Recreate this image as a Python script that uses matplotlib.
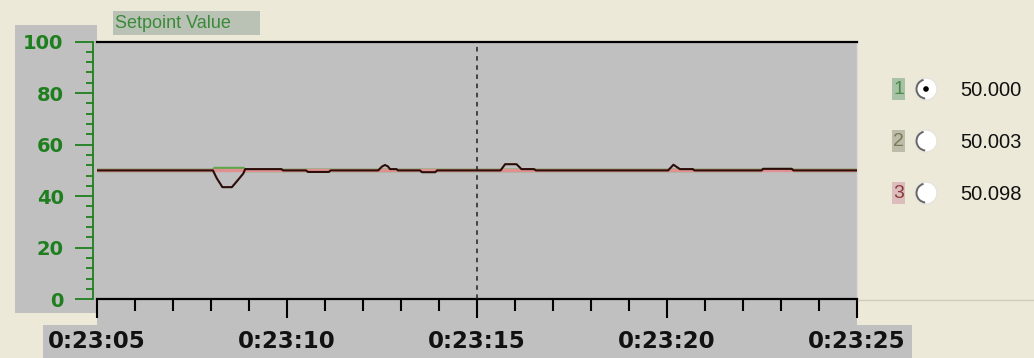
import matplotlib
matplotlib.use("Agg")
import matplotlib.pyplot as plt
from matplotlib.patches import Rectangle, Circle, Arc
from matplotlib.ticker import FixedLocator, MultipleLocator, FixedFormatter

# ---- data (time in seconds after 0:23:05) ----
tick_seconds = [0, 5, 10, 15, 20]
tick_labels = ["0:23:05", "0:23:10", "0:23:15", "0:23:20", "0:23:25"]
cursor_time = 10

# series 3: reference value (flat)
t_red = [0, 20]
v_red = [50, 50]

# series 1: setpoint trace
t_green = [0, 3.05, 3.1, 3.85, 3.9, 17.49, 17.53, 18.28, 18.33, 20]
v_green = [50, 50, 50.7, 50.7, 50, 50, 50.3, 50.3, 50, 50]

# series 2: process value
t_dark = [0, 3.05, 3.15, 3.3, 3.55, 3.75, 3.85, 3.9, 4.85, 4.9,
          5.5, 5.55, 6.1, 6.15, 7.40, 7.50, 7.58, 7.66, 7.71, 7.88, 7.92,
          8.5, 8.55, 8.9, 8.95, 10.62, 10.74, 11.04, 11.17, 11.50, 11.55,
          15.03, 15.17, 15.34, 15.68, 15.72, 17.49, 17.53, 18.28, 18.33, 20]
v_dark = [50, 50, 47, 43.5, 43.5, 47, 48.8, 50.5, 50.5, 50,
          50, 49.4, 49.4, 50, 50, 51.5, 52.1, 51.5, 50.5, 50.5, 50,
          50, 49.3, 49.3, 50, 50, 52.4, 52.4, 50.5, 50.5, 50,
          50, 52.2, 50.5, 50.5, 50, 50, 50.6, 50.6, 50, 50]

legend_ids = ["1", "2", "3"]
legend_values = ["50.000", "50.003", "50.098"]
legend_box_colors = ["#a9c2a6", "#bcbca8", "#dcbcbc"]
legend_text_colors = ["#4b8a4b", "#7a7a58", "#8a3a3a"]

W, H = 1034, 358
CREAM = "#ECE9D8"
GRAY = "#C0C0C0"
GREEN = "#1f7f1f"

fig = plt.figure(figsize=(W / 100, H / 100), dpi=100, facecolor=CREAM)

# full-figure pixel canvas for panel decorations
bg = fig.add_axes([0, 0, 1, 1], zorder=0)
bg.set_xlim(0, W)
bg.set_ylim(H, 0)
bg.axis("off")

def box(x0, y0, x1, y1, color, z=0):
    bg.add_patch(Rectangle((x0, y0), x1 - x0, y1 - y0, facecolor=color,
                           edgecolor="none", zorder=z))

box(15, 25, 97, 313, GRAY)            # y-label panel
box(97, 299, 857, 325, GRAY)          # below plot
box(43, 325, 912, 358, GRAY)          # time label strip
box(113, 11, 260, 35, "#b9c2b4")      # title box
bg.plot([857, W], [299.5, 299.5], color="#cfccbf", lw=1)
bg.text(115, 23, "Setpoint Value", color="#3a8a3a", fontsize=13,
        family="Liberation Sans", va="center", ha="left")

# legend with radio buttons
rows_y = [89, 141, 193]
for i, y in enumerate(rows_y):
    box(892, y - 11, 905, y + 11, legend_box_colors[i])
    bg.text(898.5, y + 1, legend_ids[i], color=legend_text_colors[i],
            fontsize=14, family="Liberation Sans", ha="center", va="center")
    bg.add_patch(Circle((926, y), 11, facecolor="white", edgecolor="#e6e4dc",
                        lw=1, zorder=2))
    bg.add_patch(Arc((926, y), 19, 19, theta1=95, theta2=255,
                     color="#666666", lw=1.4, zorder=3))
    if i == 0:
        bg.add_patch(Circle((926, y), 2.8, facecolor="black", zorder=4))
    bg.text(960, y + 1, legend_values[i], color="#111111", fontsize=14.5,
            family="Liberation Sans", ha="left", va="center")

# main chart
left, right, top, bottom = 97, 857, 41.5, 299.3
ax = fig.add_axes([left / W, 1 - bottom / H, (right - left) / W, (bottom - top) / H],
                  zorder=1)
ax.set_facecolor(GRAY)
ax.set_xlim(0, 20)
ax.set_ylim(0, 100)

ax.plot(t_green, v_green, color="#5aa84a", lw=2.6, zorder=2, solid_capstyle="butt")
ax.plot(t_red, v_red, color="#e09090", lw=2.4, zorder=3)
ax.plot(t_dark, v_dark, color="#2a0c08", lw=1.5, zorder=4)
ax.axvline(cursor_time, color="#222222", lw=1.1, ls=(0, (3, 3)), zorder=5)

for s in ("top", "bottom"):
    ax.spines[s].set_color("black")
    ax.spines[s].set_linewidth(1.6)
ax.spines["right"].set_color("#dcdcdc")
ax.spines["right"].set_linewidth(1)
ax.spines["left"].set_color(GREEN)
ax.spines["left"].set_linewidth(1.3)
ax.spines["left"].set_position(("outward", 3))

ax.xaxis.set_major_locator(FixedLocator(tick_seconds))
ax.xaxis.set_major_formatter(FixedFormatter(tick_labels))
ax.xaxis.set_minor_locator(MultipleLocator(1))
ax.tick_params(axis="x", which="major", direction="out", length=13.5, width=1.5,
               color="black", pad=8.5, labelsize=16.5, labelcolor="#111111")
ax.tick_params(axis="x", which="minor", direction="out", length=8.5, width=1.5,
               color="black")
for lab in ax.get_xticklabels():
    lab.set_fontweight("bold")

ax.yaxis.set_major_locator(MultipleLocator(20))
ax.yaxis.set_minor_locator(MultipleLocator(4))
ax.tick_params(axis="y", which="major", direction="out", length=13, width=1.3,
               color=GREEN, pad=8, labelsize=14, labelcolor=GREEN)
ax.tick_params(axis="y", which="minor", direction="out", length=5, width=1.3,
               color=GREEN)
for lab in ax.get_yticklabels():
    lab.set_fontweight("bold")

fig.savefig("out.png", dpi=100, facecolor=CREAM)
